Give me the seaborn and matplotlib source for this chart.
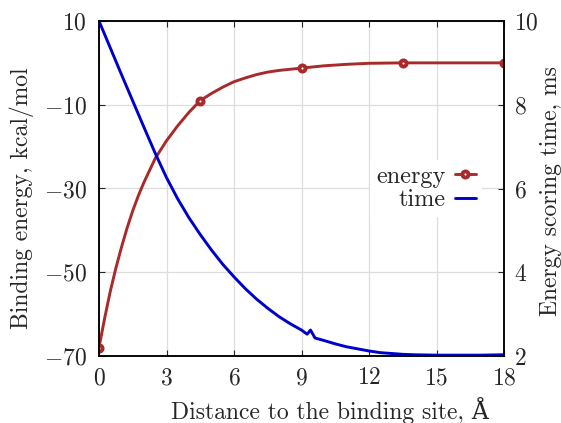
import matplotlib
matplotlib.use("Agg")
import matplotlib.pyplot as plt
import seaborn as sns
import pandas as pd

# ---- data ----
dist_energy = [0, 0.25, 0.5, 0.75, 1, 1.25, 1.5, 1.75, 2, 2.5, 3, 3.5, 4, 4.5,
               5, 5.5, 6, 6.5, 7, 7.5, 8, 9, 10, 11, 12, 13.5, 15, 16.5, 18]
energy = [-68, -61, -54.6, -49, -44, -39.4, -35.3, -31.7, -28.5, -22.8, -18.6,
          -15.0, -11.8, -9.0, -7.3, -5.8, -4.5, -3.6, -2.8, -2.2, -1.8, -1.25,
          -0.7, -0.35, -0.1, 0, 0, 0, 0]
energy_marker_idx = [0, 13, 21, 25, 28]   # x = 0, 4.5, 9, 13.5, 18

dist_time = [0, 0.5, 1.0, 1.5, 2.0, 2.5, 3.0, 3.5, 4.0, 4.5, 5.0, 5.5, 6.0, 6.5,
             7.0, 7.5, 8.0, 8.5, 9.0, 9.25, 9.4, 9.6, 10.0, 10.5, 11.0, 11.5,
             12.0, 12.5, 13.0, 13.5, 14.0, 15.0, 16.0, 17.0, 18.0]
time_ms = [10.0, 9.36, 8.72, 8.09, 7.46, 6.84, 6.26, 5.75, 5.30, 4.90, 4.53,
           4.19, 3.89, 3.61, 3.36, 3.14, 2.94, 2.77, 2.62, 2.52, 2.62, 2.43,
           2.37, 2.29, 2.22, 2.17, 2.12, 2.08, 2.06, 2.04, 2.03, 2.02, 2.02,
           2.02, 2.03]

x_ticks = [0, 3, 6, 9, 12, 15, 18]
energy_ticks = [-70, -50, -30, -10, 10]
time_ticks = [2, 4, 6, 8, 10]

RED = "#a82a2a"
BLUE = "#0000cc"

sns.set_style("ticks")
plt.rcParams["font.family"] = ["cmr10", "DejaVu Serif"]
plt.rcParams["mathtext.fontset"] = "cm"
plt.rcParams["axes.formatter.use_mathtext"] = True
plt.rcParams["axes.unicode_minus"] = True

fig = plt.figure(figsize=(5.61, 4.23), dpi=100)
ax = fig.add_axes([99 / 561, 1 - 356 / 423, 405 / 561, 335 / 423])
ax2 = ax.twinx()

df_e = pd.DataFrame({"d": dist_energy, "e": energy})
df_t = pd.DataFrame({"d": dist_time, "t": time_ms})

sns.lineplot(data=df_e, x="d", y="e", ax=ax, color=RED, lw=2.1,
             marker="o", markevery=energy_marker_idx, markersize=4.4,
             markerfacecolor="white", markeredgecolor=RED, markeredgewidth=2.8,
             label="energy", legend=False)
sns.lineplot(data=df_t, x="d", y="t", ax=ax2, color=BLUE, lw=2.1,
             label="time", legend=False)

ax.set_xlim(0, 18)
ax.set_ylim(-70, 10)
ax2.set_ylim(2, 10)
ax.set_xticks(x_ticks)
ax.set_yticks(energy_ticks)
ax2.set_yticks(time_ticks)

ax.grid(True, color="#dddddd", lw=0.9)
ax.set_axisbelow(True)

fs_tick = 17
fs_lab = 17
ax.tick_params(direction="in", length=4, width=0.8, labelsize=fs_tick,
               top=True, right=False)
ax.tick_params(axis="y", pad=9)
ax.tick_params(axis="x", pad=8)
ax2.tick_params(direction="in", length=4, width=0.8, labelsize=fs_tick, pad=7)
for a in (ax, ax2):
    for s in a.spines.values():
        s.set_linewidth(1.1)
        s.set_color("black")

ax.set_xlabel("Distance to the binding site, Å", fontsize=fs_lab,
              va="center")
ax.xaxis.set_label_coords(0.57, -0.163)
ax.set_ylabel("Binding energy, kcal/mol", fontsize=fs_lab, va="center")
ax.yaxis.set_label_coords(-0.19, 0.472)
ax2.set_ylabel("Energy scoring time, ms", fontsize=fs_lab, va="center")
ax2.yaxis.set_label_coords(1.116, 0.493)

h1, l1 = ax.get_legend_handles_labels()
h2, l2 = ax2.get_legend_handles_labels()
leg = ax2.legend(h1 + h2, l1 + l2, loc="center right",
                 bbox_to_anchor=(0.975, 0.5), markerfirst=False, fontsize=17.5,
                 frameon=True, fancybox=False, handlelength=0.85,
                 handletextpad=0.4, labelspacing=0.06, borderpad=0.25)
leg.get_frame().set_edgecolor("none")
leg.get_frame().set_facecolor("white")
leg.get_frame().set_alpha(1.0)

fig.savefig("out.png", dpi=100)
